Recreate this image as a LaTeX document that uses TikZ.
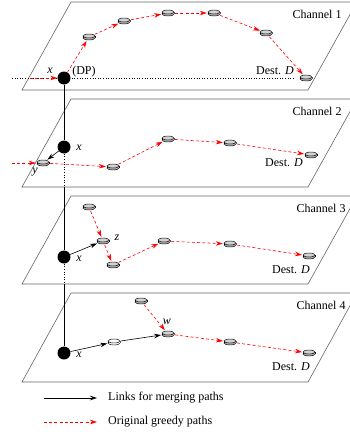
\documentclass[tikz,border=0pt]{standalone}
\usepackage{fontspec}
\setmainfont{Liberation Serif}
\usetikzlibrary{arrows.meta,shapes.geometric}
\tikzset{
  plane/.style={draw=black!60, line width=0.6pt},
  dpnode/.style={circle, fill=black, inner sep=0pt, minimum size=13pt},
  coinbase/.style={ellipse, inner sep=0pt, minimum width=14pt, minimum height=8pt},
  coin/.style={coinbase, path picture={
      \begin{scope}[shift={(path picture bounding box.center)}]
        \draw[fill=gray!65, line width=0.45pt] (0,1) ellipse (6pt and 2pt);
        \fill[gray!65] (-6,-1) rectangle (6,1);
        \draw[line width=0.45pt] (-6,-1) -- (-6,1) (6,-1) -- (6,1);
        \draw[fill=gray!35, line width=0.45pt] (0,-1) ellipse (6pt and 2pt);
      \end{scope}}},
  whitecoin/.style={coinbase, path picture={
      \begin{scope}[shift={(path picture bounding box.center)}]
        \draw[fill=white, line width=0.45pt] (0,1) ellipse (6pt and 2pt);
        \fill[white] (-6,-1) rectangle (6,1);
        \draw[line width=0.45pt] (-6,-1) -- (-6,1) (6,-1) -- (6,1);
        \draw[fill=white, line width=0.45pt] (0,-1) ellipse (6pt and 2pt);
      \end{scope}}},
  greedy/.style={red, dash pattern=on 3pt off 2.2pt, line width=0.6pt,
      -{Stealth[length=7pt,width=4.5pt]}},
  merge/.style={black, line width=0.6pt, -{Stealth[length=7pt,width=4.5pt]}},
  lbl/.style={font=\fontsize{12}{14}\selectfont, inner sep=0pt},
  vline/.style={black, line width=0.6pt},
  hline/.style={black, dotted, line width=0.6pt},
}
\begin{document}
\begin{tikzpicture}[x=1pt,y=-1pt]
\useasboundingbox (0,0) rectangle (350,434);
\begin{scope}
\clip (0,0) rectangle (350,434);
% planes
\draw[plane] (22,90) -- (71,2) -- (357,2) -- (308,90) -- cycle;
\draw[plane] (22,187) -- (71,99) -- (357,99) -- (308,187) -- cycle;
\draw[plane] (22,284) -- (71,196) -- (357,196) -- (308,284) -- cycle;
\draw[plane] (22,382) -- (71,293) -- (357,293) -- (308,382) -- cycle;
\end{scope}

% channel labels
\node[lbl] (ch1) at (317,14) {Channel 1};
\node[lbl] (ch2) at (317,111) {Channel 2};
\node[lbl] (ch3) at (321,208) {Channel 3};
\node[lbl] (ch4) at (321,305) {Channel 4};

% coordinates
\coordinate (L1) at (12,78);
\coordinate (R1) at (293,78);
\coordinate (S1) at (30,78);
\coordinate (S2) at (12,163);
\coordinate (B2) at (64,187);
\coordinate (B3) at (64,284);

% plane 1 dotted line
\draw[hline] (L1) -- (R1);

% nodes plane 1
\node[dpnode] (dp1) at (64,78) {};
\node[coin] (a1) at (89,37) {};
\node[coin] (a2) at (124,21) {};
\node[coin] (a3) at (168,13) {};
\node[coin] (a4) at (214,13) {};
\node[coin] (a5) at (266,33) {};
\node[coin] (d1) at (306,78) {};
\node[lbl] (lx1) at (50,71) {\textit{x}};
\node[lbl] (ldp) at (84,72) {(DP)};
\node[lbl] (ld1) at (275,71) {Dest. \textit{D}};

% nodes plane 2
\node[dpnode] (x2) at (64,147) {};
\node[coin] (y) at (43,163) {};
\node[coin] (b1) at (113,167) {};
\node[coin] (b2) at (168,139) {};
\node[coin] (b3) at (230,143) {};
\node[coin] (d2) at (311,155) {};
\node[lbl] (lx2) at (79,148) {\textit{x}};
\node[lbl] (ly) at (35,172) {\textit{y}};
\node[lbl] (ld2) at (284,163) {Dest. \textit{D}};

% nodes plane 3
\node[dpnode] (x3) at (64,257) {};
\node[coin] (c0) at (89,207) {};
\node[coin] (z) at (103,241) {};
\node[coin] (c1) at (113,265) {};
\node[coin] (c2) at (164,241) {};
\node[coin] (c3) at (230,244) {};
\node[coin] (d3) at (309,256) {};
\node[lbl] (lx3) at (79,259) {\textit{x}};
\node[lbl] (lz) at (117,238) {\textit{z}};
\node[lbl] (ld3) at (291,270) {Dest. \textit{D}};

% nodes plane 4
\node[dpnode] (x4) at (64,353) {};
\node[coin] (e0) at (141,301) {};
\node[coin] (w) at (168,334) {};
\node[whitecoin] (wh) at (114,342) {};
\node[coin] (e1) at (230,342) {};
\node[coin] (d4) at (309,353) {};
\node[lbl] (lx4) at (79,355) {\textit{x}};
\node[lbl] (lw) at (167,322) {\textit{w}};
\node[lbl] (ld4) at (291,367) {Dest. \textit{D}};

% vertical line
\draw[vline] (dp1) -- (x2);
\draw[hline] (x2) -- (B2);
\draw[vline] (B2) -- (x3);
\draw[hline] (x3) -- (B3);
\draw[vline] (B3) -- (x4);

% greedy paths
\draw[greedy] (S1) -- (dp1);
\draw[greedy] (dp1) -- (a1);
\draw[greedy] (a1) -- (a2);
\draw[greedy] (a2) -- (a3);
\draw[greedy] (a3) -- (a4);
\draw[greedy] (a4) -- (a5);
\draw[greedy] (a5) -- (d1);

\draw[greedy] (S2) -- (y);
\draw[greedy] (y) -- (b1);
\draw[greedy] (b1) -- (b2);
\draw[greedy] (b2) -- (b3);
\draw[greedy] (b3) -- (d2);

\draw[greedy] (c0) -- (z);
\draw[greedy] (z) -- (c1);
\draw[greedy] (c1) -- (c2);
\draw[greedy] (c2) -- (c3);
\draw[greedy] (c3) -- (d3);

\draw[greedy] (e0) -- (w);
\draw[greedy] (w) -- (e1);
\draw[greedy] (e1) -- (d4);

% merging links
\draw[merge] (x2) -- (y);
\draw[merge] (x3) -- (z);
\draw[merge] (x4) -- (wh);
\draw[merge] (wh) -- (w);

% legend
\coordinate (m1) at (44,398);
\coordinate (m2) at (97,398);
\coordinate (g1) at (44,422);
\coordinate (g2) at (97,422);
\draw[merge] (m1) -- (m2);
\draw[greedy] (g1) -- (g2);
\node[lbl, anchor=west] (tm) at (108,398) {Links for merging paths};
\node[lbl, anchor=west] (tg) at (108,422) {Original greedy paths};
\end{tikzpicture}
\end{document}
